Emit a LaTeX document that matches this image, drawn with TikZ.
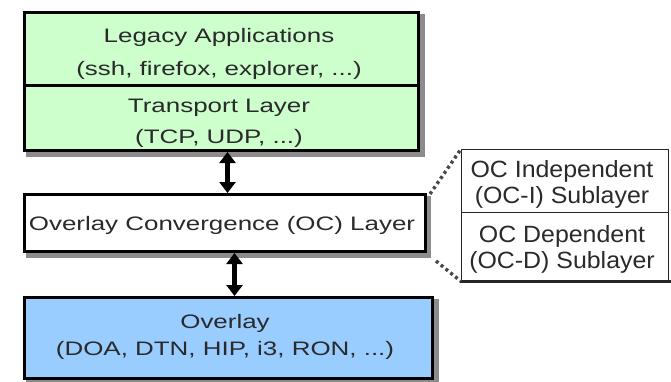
\documentclass[tikz,border=0pt]{standalone}
\usepackage{fontspec}
\setmainfont{Liberation Sans}
\newfontfamily\mainf[FakeStretch=1.33]{Liberation Sans}
\newfontfamily\subf[FakeStretch=1.06]{Liberation Sans}
\usetikzlibrary{arrows.meta}
\definecolor{lgreen}{HTML}{CCFFCC}
\definecolor{lblue}{HTML}{99CCFF}
\definecolor{shadowgray}{HTML}{8C8C8C}
\definecolor{txt}{HTML}{2A2A2A}
\begin{document}
\begin{tikzpicture}[x=1pt,y=-1pt,
  mainbox/.style={draw=black, line width=3pt, inner sep=0pt, anchor=north west},
  subbox/.style={draw=black!85, line width=1.4pt, inner sep=0pt, anchor=north west, fill=white},
  maintext/.style={anchor=base, inner sep=0pt, text=txt, font=\mainf\fontsize{19.5}{23}\selectfont},
  subtext/.style={anchor=base, inner sep=0pt, text=txt, font=\subf\fontsize{23.5}{27}\selectfont},
  dblarrow/.style={line width=4.5pt, {Triangle[length=11pt,width=16pt]}-{Triangle[length=11pt,width=16pt]}},
  dotline/.style={line width=3.4pt, dash pattern=on 3pt off 3.2pt, draw=black!72}
]
\useasboundingbox[fill=white] (0,0) rectangle (671,381);

% shadows
\fill[shadowgray] (26,14) rectangle (425,157);
\fill[shadowgray] (26,196) rectangle (431,258);
\fill[shadowgray] (26,299) rectangle (439,386);

% main boxes
\node[mainbox, fill=lgreen, minimum width=394pt, minimum height=73pt] (legacy) at (23,11) {};
\node[mainbox, fill=lgreen, minimum width=394pt, minimum height=65pt] (transport) at (23,84) {};
\node[mainbox, fill=white, minimum width=401pt, minimum height=57pt] (oc) at (23,193) {};
\node[mainbox, fill=lblue, minimum width=408pt, minimum height=81pt] (overlay) at (23,296) {};

% sublayer boxes
\draw[black!85, line width=3pt] (460,281) -- (671,281);
\node[subbox, minimum width=207pt, minimum height=63pt] (subI) at (461,149) {};
\node[subbox, minimum width=207pt, minimum height=68pt] (subD) at (461,212) {};

% texts
\node[maintext] (t1a) at (219,42) {Legacy Applications};
\node[maintext] (t1b) at (219,75) {(ssh, firefox, explorer, ...)};
\node[maintext] (t2a) at (219,112) {Transport Layer};
\node[maintext] (t2b) at (219,143) {(TCP, UDP, ...)};
\node[maintext] (t3) at (222,230) {Overlay Convergence (OC) Layer};
\node[maintext] (t4a) at (225,328) {Overlay};
\node[maintext] (t4b) at (225,355) {(DOA, DTN, HIP, i3, RON, ...)};
\node[subtext] (s1a) at (562,177) {OC Independent};
\node[subtext] (s1b) at (562,203) {(OC-I) Sublayer};
\node[subtext] (s2a) at (562,242) {OC Dependent};
\node[subtext] (s2b) at (562,268) {(OC-D) Sublayer};

% arrows
\draw[dblarrow] ([xshift=6pt]transport.south) -- ([xshift=2.5pt]oc.north);
\draw[dblarrow] ([xshift=9.5pt]oc.south) -- ([xshift=6pt]overlay.north);

% dotted connectors
\draw[dotline] ([shift={(3pt,-1pt)}]oc.north east) -- (subI.north west);
\draw[dotline] ([shift={(9pt,-8pt)}]oc.south east) -- (subD.south west);
\end{tikzpicture}
\end{document}
